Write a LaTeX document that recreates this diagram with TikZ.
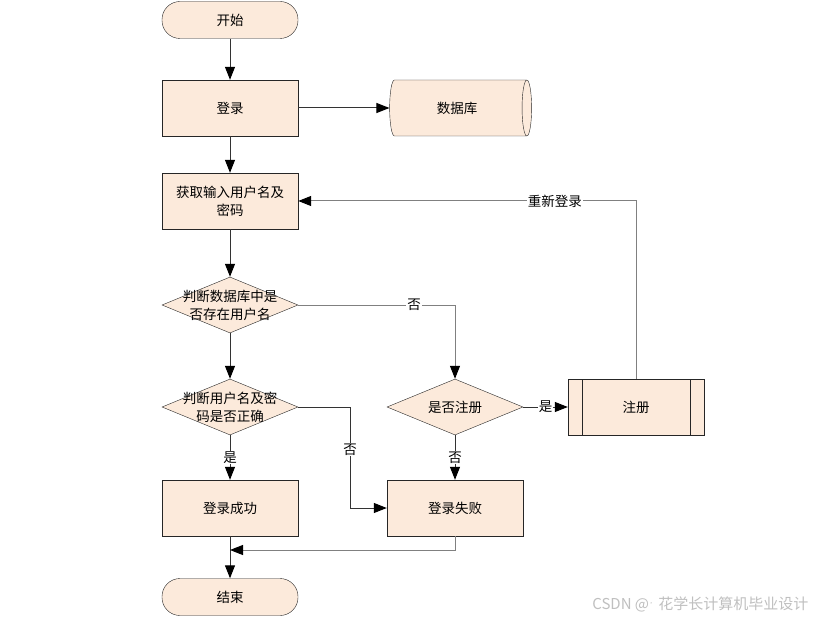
\documentclass[tikz,border=0pt]{standalone}
\usepackage{fontspec}
\setmainfont{Noto Sans CJK SC}
\usetikzlibrary{arrows.meta,shapes.geometric,calc,positioning}
\definecolor{peach}{HTML}{FCEADB}

\begin{document}
\begin{tikzpicture}[x=1pt,y=-1pt,
  font=\fontsize{13.5}{18}\selectfont,
  proc/.style={rectangle,draw=black!85,fill=peach,minimum width=136pt,minimum height=56pt,align=center,inner sep=2pt},
  term/.style={rectangle,rounded corners=18pt,draw=black!85,fill=peach,minimum width=136pt,minimum height=37pt},
  decision/.style={diamond,draw=black!85,fill=peach,minimum width=136pt,minimum height=56pt,inner sep=0pt},
  store/.style={cylinder,draw=black!85,fill=peach,aspect=0.5,minimum width=56pt,minimum height=142pt,shape border rotate=0},
  subproc/.style={proc,path picture={
      \draw[black!85] ([xshift=14pt]path picture bounding box.north west) -- ([xshift=14pt]path picture bounding box.south west);
      \draw[black!85] ([xshift=-14pt]path picture bounding box.north east) -- ([xshift=-14pt]path picture bounding box.south east);}},
  flow/.style={draw=black!80,line width=1pt,-{Triangle[length=13pt,width=10pt,color=black]}},
  grey/.style={draw=black!50},
  lbl/.style={fill=white,inner sep=1pt}]
\useasboundingbox (0,0) rectangle (824,620);

\node[term] (start) at (230,20) {开始};
\node[proc] (login) at (230,108) {登录};
\node[store] (db) at (457,108) {数据库};
\node[proc] (input) at (230,201) {获取输入用户名及\\密码};
\node[decision,label={[align=center]center:{判断数据库中是\\否存在用户名}}] (check1) at (230,305) {};
\node[decision,label={[align=center]center:{判断用户名及密\\码是否正确}}] (check2) at (230,407) {};
\node[decision,label={center:是否注册}] (ifreg) at (455,407) {};
\node[subproc] (reg) at (636,407) {注册};
\node[proc] (ok) at (230,508) {登录成功};
\node[proc] (fail) at (455,508) {登录失败};
\node[term] (end) at (230,597) {结束};
\coordinate (join) at (230,550);

\draw[flow] (start) -- (login);
\draw[flow] (login) -- (db);
\draw[flow] (login) -- (input);
\draw[flow] (input) -- (check1);
\draw[flow] (check1) -- (check2);
\draw[flow,grey] (check1.east) -| node[lbl,pos=0.37]{否} (ifreg.north);
\draw[flow] (check2) -- node[lbl]{是} (ok);
\draw[flow] (check2.east) -- ++(52,0) |- node[lbl,pos=0.21]{否} (fail.west);
\draw[flow] (ifreg) -- node[lbl]{否} (fail);
\draw[flow] (ifreg) -- node[lbl]{是} (reg);
\draw[flow,grey] (reg.north) |- node[lbl,pos=0.62]{重新登录} (input.east);
\draw[flow] (ok) -- (end);
\draw[flow,grey] (fail.south) |- (join);

\node[text=black!25,font=\fontsize{15}{17}\selectfont,anchor=east] (mark) at (812,604) {CSDN @\kern1pt\raisebox{3pt}{\tiny *}\kern6pt 花学长计算机毕业设计};
\end{tikzpicture}
\end{document}
